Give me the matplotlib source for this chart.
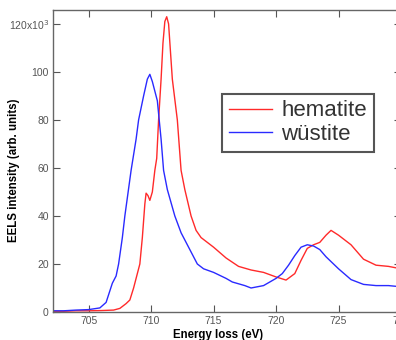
"""EELS Fe L-edge spectra: hematite vs wüstite."""

import matplotlib.pyplot as plt
from matplotlib import font_manager

# energy loss (eV) and intensity (x10^3)
hematite_e = [702.2, 703.0, 704.0, 705.0, 706.0, 707.0, 707.5, 708.0, 708.3,
              708.6, 708.9, 709.1, 709.3, 709.5, 709.6, 709.75, 709.9, 710.1,
              710.3, 710.45, 710.6, 710.8, 710.95, 711.1, 711.25, 711.4, 711.7,
              712.1, 712.4, 712.7, 713.2, 713.6, 714.0, 715.0, 716.0, 717.0,
              718.0, 719.0, 720.0, 720.8, 721.5, 722.0, 722.5, 723.0, 723.5,
              724.0, 724.4, 725.0, 726.0, 727.0, 728.0, 729.0, 730.0]
hematite_i = [0.3, 0.3, 0.5, 0.5, 0.6, 0.8, 1.5, 3.5, 5.0,
              10.0, 16.0, 20.0, 31.0, 45.0, 49.5, 48.5, 46.5, 50.0,
              59.0, 64.0, 80.0, 97.0, 112.0, 121.0, 123.0, 120.0, 97.0,
              80.0, 59.0, 51.0, 40.0, 34.0, 31.0, 27.0, 22.5, 19.0,
              17.5, 16.5, 14.6, 13.3, 16.0, 21.5, 26.5, 28.0, 29.0,
              32.0, 34.0, 32.0, 28.0, 22.0, 19.5, 19.0, 18.0]

wustite_e = [702.2, 703.0, 704.0, 705.0, 705.9, 706.4, 706.9, 707.2, 707.4,
             707.7, 707.9, 708.4, 708.8, 709.0, 709.4, 709.7, 709.9, 710.1,
             710.5, 710.8, 711.0, 711.3, 711.9, 712.4, 713.1, 713.7, 714.2,
             715.0, 716.0, 716.5, 717.5, 718.0, 719.0, 720.0, 720.5, 721.0,
             721.5, 722.0, 722.5, 723.0, 723.5, 724.0, 725.0, 726.0, 727.0,
             728.0, 729.0, 730.0]
wustite_i = [0.5, 0.5, 0.8, 1.0, 1.7, 4.0, 12.0, 15.0, 20.0,
             31.0, 40.0, 59.0, 72.0, 80.0, 90.0, 97.0, 99.0, 96.0,
             88.0, 72.0, 59.0, 51.0, 40.0, 33.0, 26.0, 20.0, 18.0,
             16.5, 14.0, 12.5, 11.0, 10.0, 11.0, 14.0, 16.0, 19.5,
             23.5, 27.0, 28.0, 27.5, 26.0, 23.0, 18.0, 13.5, 11.5,
             11.0, 11.0, 10.5]

x_ticks = [705, 710, 715, 720, 725, 730]
y_ticks = [0, 20, 40, 60, 80, 100, 120]
y_tick_labels = ["0", "20", "40", "60", "80", "100", "120x10$^3$"]


def legend_family() -> list[str]:
    names = {f.name for f in font_manager.fontManager.ttflist}
    if "Liberation Sans Narrow" in names:
        return ["Liberation Sans Narrow"]
    return ["Liberation Sans"]


def main() -> None:
    plt.rcParams["font.family"] = ["Liberation Sans", "DejaVu Sans"]

    fig = plt.figure(figsize=(3.96, 3.40), dpi=100)
    ax = fig.add_axes([53 / 396, 1 - 312 / 340, 348 / 396, 302 / 340])

    ax.plot(hematite_e, hematite_i, color="#ff2a2a", lw=1.0, label="hematite")
    ax.plot(wustite_e, wustite_i, color="#2a2aff", lw=1.0, label="wüstite")

    ax.set_xlim(702.15, 729.8)
    ax.set_ylim(0, 125.8)
    ax.set_xticks(x_ticks)
    ax.set_yticks(y_ticks)
    ax.set_yticklabels(y_tick_labels)

    ax.tick_params(direction="in", top=True, right=True, length=5,
                   width=0.8, color="#555555", labelcolor="#555555",
                   labelsize=7.5, pad=3)
    for spine in ax.spines.values():
        spine.set_color("#666666")
        spine.set_linewidth(1.0)

    ax.set_ylabel("EELS intensity (arb. units)", fontsize=8.3, fontweight="bold")
    ax.yaxis.set_label_coords(-0.095, 0.47)
    ax.set_xlabel("Energy loss (eV)", fontsize=8.3, fontweight="bold")
    ax.xaxis.set_label_coords(0.474, -0.055)

    leg = ax.legend(loc="upper left", bbox_to_anchor=(0.487, 0.723),
                    prop={"family": legend_family(), "size": 16},
                    handlelength=1.95, handletextpad=0.4, labelspacing=0.12,
                    borderpad=0.3, borderaxespad=0, fancybox=False,
                    framealpha=1)
    leg.get_frame().set_edgecolor("#555555")
    leg.get_frame().set_linewidth(1.5)
    for text in leg.get_texts():
        text.set_color("#333333")

    fig.savefig("out.png", dpi=100)
    plt.close(fig)


if __name__ == "__main__":
    main()
